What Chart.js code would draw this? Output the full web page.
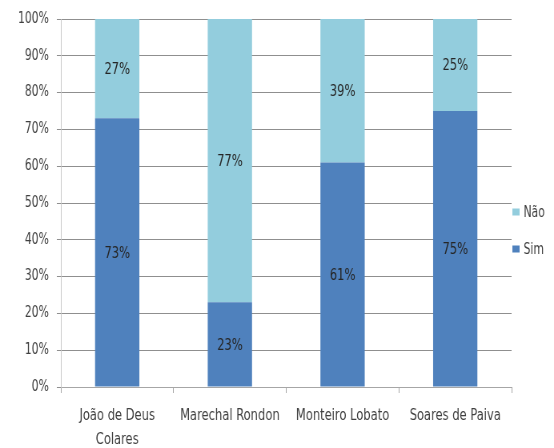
<!DOCTYPE html>
<html>
<head>
<meta charset="utf-8">
<script src="https://cdn.jsdelivr.net/npm/chart.js@4/dist/chart.umd.min.js"></script>
<style>
  html, body { margin: 0; padding: 0; background: #fff; }
  /* drawn wide, shown narrow: gives the tall condensed lettering */
  #myChart { width: 554px; height: 448px; display: block; }
</style>
</head>
<body>
<canvas id="myChart" width="692" height="448" style="width:554px;height:448px"></canvas>
<script>
const categories = [['João de Deus', 'Colares'], 'Marechal Rondon', 'Monteiro Lobato', 'Soares de Paiva'];
const sim = [73, 23, 61, 75];
const nao = [27, 77, 39, 25];
const yTicks = [0, 10, 20, 30, 40, 50, 60, 70, 80, 90, 100];

const FONT = '"DejaVu Sans Condensed", "Liberation Sans", sans-serif';

// percentage text in the middle of every bar segment
const segmentLabels = {
    id: 'segmentLabels',
    afterDatasetsDraw(chart) {
        const ctx = chart.ctx;
        ctx.save();
        ctx.font = '16px ' + FONT;
        ctx.fillStyle = '#262626';
        ctx.textAlign = 'center';
        ctx.textBaseline = 'middle';
        chart.data.datasets.forEach((ds, i) => {
            chart.getDatasetMeta(i).data.forEach((bar, j) => {
                const p = bar.getProps(['x', 'y', 'base'], true);
                ctx.fillText(ds.data[j] + '%', p.x, (p.y + p.base) / 2 + 1);
            });
        });
        ctx.restore();
    }
};

// small legend hugging the right edge of the plot, last series on top
const sideLegend = {
    id: 'sideLegend',
    afterDraw(chart) {
        const ctx = chart.ctx;
        const area = chart.chartArea;
        const sets = chart.data.datasets.slice().reverse();
        let y = (area.top + area.bottom) / 2 + 9;
        ctx.save();
        ctx.font = '15px ' + FONT;
        ctx.textBaseline = 'middle';
        sets.forEach(ds => {
            ctx.fillStyle = ds.backgroundColor;
            ctx.fillRect(area.right + 1, y - 3.5, 9, 7);
            ctx.fillStyle = '#404040';
            ctx.fillText(ds.label, area.right + 15, y + 1);
            y += 37;
        });
        ctx.restore();
    }
};

const ctx = document.getElementById('myChart').getContext('2d');
const myChart = new Chart(ctx, {
    type: 'bar',
    data: {
        labels: categories,
        datasets: [{
            label: 'Sim',
            data: sim,
            backgroundColor: '#4F81BD',
            categoryPercentage: 1,
            barPercentage: 0.393
        },
        {
            label: 'Não',
            data: nao,
            backgroundColor: '#93CDDD',
            categoryPercentage: 1,
            barPercentage: 0.393
        }]
    },
    options: {
        responsive: false,
        animation: false,
        devicePixelRatio: 1,
        layout: {
            padding: { left: 0, top: 17, right: 53, bottom: 0 }
        },
        scales: {
            x: {
                stacked: true,
                offset: true,
                grid: {
                    offset: true,
                    drawOnChartArea: false,
                    drawTicks: true,
                    tickLength: 6,
                    color: '#a6a6a6'
                },
                border: { color: '#a6a6a6' },
                ticks: {
                    color: '#404040',
                    font: { family: FONT, size: 16, lineHeight: 1.5 },
                    padding: 11,
                    maxRotation: 0,
                    autoSkip: false
                },
                afterFit(scale) { scale.height = 61; }
            },
            y: {
                stacked: true,
                min: 0,
                max: 100,
                afterBuildTicks(scale) {
                    scale.ticks = yTicks.map(v => ({ value: v }));
                },
                grid: {
                    color: '#8f8f8f',
                    tickLength: 5
                },
                border: { color: '#c8c8c8' },
                ticks: {
                    color: '#404040',
                    font: { family: FONT, size: 15 },
                    padding: 10,
                    callback: v => v + '%'
                },
                afterFit(scale) { scale.width = 76; }
            }
        },
        plugins: {
            legend: { display: false },
            tooltip: { enabled: false }
        }
    },
    plugins: [segmentLabels, sideLegend]
});
myChart.canvas.style.width = '554px';
myChart.canvas.style.height = '448px';
</script>
</body>
</html>
